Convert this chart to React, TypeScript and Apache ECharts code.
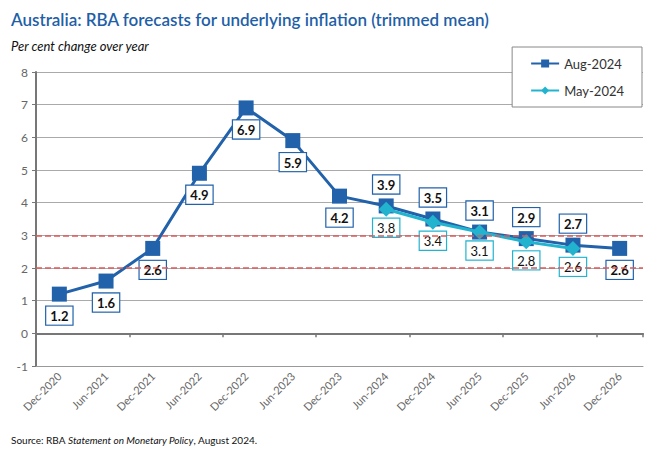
import React, { useEffect, useRef } from "react";
import * as echarts from "echarts";

const categories = ["Dec-2020","Jun-2021","Dec-2021","Jun-2022","Dec-2022","Jun-2023","Dec-2023","Jun-2024","Dec-2024","Jun-2025","Dec-2025","Jun-2026","Dec-2026"];
const aug2024 = [1.2, 1.6, 2.6, 4.9, 6.9, 5.9, 4.2, 3.9, 3.5, 3.1, 2.9, 2.7, 2.6];
const augLabelPos = ["bottom","bottom","bottom","bottom","bottom","bottom","bottom","top","top","top","top","top","bottom"];
const may2024 = [null, null, null, null, null, null, null, 3.8, 3.4, 3.1, 2.8, 2.6, null];
const targetBand = [2, 3];

const AUG = "#2162aa";
const MAY = "#22b4cf";
const FONT = "Lato, 'Noto Sans', sans-serif";

export default function App() {
  const ref = useRef<HTMLDivElement>(null);
  useEffect(() => {
    const chart = echarts.init(ref.current!, null, { renderer: "svg" });
    const boxLabel = (color: string, bold: boolean) => ({
      show: true,
      formatter: (p: any) => Number(p.value).toFixed(1),
      color: "#111",
      fontFamily: FONT,
      fontSize: 13,
      fontWeight: bold ? "bold" : "normal",
      backgroundColor: "#fff",
      borderColor: color,
      borderWidth: 1.2,
      padding: [3, 4, 2, 4],
      distance: 5,
    });
    chart.setOption({
      animation: false,
      backgroundColor: "#fff",
      title: [
        {
          text: "Australia: RBA forecasts for underlying inflation (trimmed mean)",
          left: 6, top: 6,
          textStyle: { color: "#1f5fa8", fontSize: 17, fontWeight: 600, fontFamily: FONT },
        },
        {
          text: "Per cent change over year",
          left: 6, top: 34,
          textStyle: { color: "#111", fontSize: 13, fontStyle: "italic", fontWeight: "normal", fontFamily: FONT },
        },
        {
          text: "Source: RBA {i|Statement on Monetary Policy}, August 2024.",
          left: 6, top: 430,
          textStyle: {
            color: "#111", fontSize: 10, fontWeight: "normal", fontFamily: FONT,
            rich: { i: { fontStyle: "italic", fontSize: 10, color: "#111", fontFamily: FONT } },
          },
        },
      ],
      legend: {
        orient: "vertical",
        right: 8, top: 47,
        width: 129,
        backgroundColor: "#fff",
        borderColor: "#888",
        borderWidth: 1,
        padding: [10, 18, 10, 18],
        itemGap: 14,
        itemWidth: 28,
        itemHeight: 10,
        textStyle: { fontFamily: FONT, fontSize: 13, color: "#333" },
        data: ["Aug-2024", "May-2024"],
      },
      grid: { left: 36, right: 7, top: 72, bottom: 89, containLabel: false },
      xAxis: [
        {
          type: "category",
          data: categories,
          position: "bottom",
          axisLine: { onZero: false, lineStyle: { color: "#999", width: 1 } },
          axisTick: { show: false },
          axisLabel: { rotate: 45, color: "#666", fontSize: 11, fontFamily: FONT, margin: 8, interval: 0 },
        },
        {
          type: "category",
          data: categories,
          position: "top",
          axisLine: { onZero: true, lineStyle: { color: "#777", width: 2 } },
          axisTick: { show: true, inside: true, length: 4, lineStyle: { color: "#777", width: 1.5 } },
          axisLabel: { show: false },
        },
      ],
      yAxis: {
        type: "value",
        min: -1, max: 8, interval: 1,
        axisLine: { show: true, lineStyle: { color: "#777", width: 2 } },
        axisTick: { show: true, length: 4, lineStyle: { color: "#777" } },
        axisLabel: { color: "#666", fontSize: 12, fontFamily: FONT, margin: 8 },
        splitLine: { show: true, lineStyle: { color: "#aaa", width: 1 } },
      },
      series: [
        {
          name: "Aug-2024",
          type: "line",
          data: aug2024.map((v, i) => ({ value: v, label: { position: augLabelPos[i] } })),
          symbol: "rect",
          symbolSize: 15,
          lineStyle: { color: AUG, width: 3 },
          itemStyle: { color: AUG },
          label: boxLabel(AUG, true),
          z: 3,
          markLine: {
            silent: true,
            symbol: "none",
            label: { show: false },
            lineStyle: { color: "#e05a5a", type: "dashed", width: 1.5 },
            data: targetBand.map((y) => ({ yAxis: y })),
          },
        },
        {
          name: "May-2024",
          type: "line",
          data: may2024,
          symbol: "diamond",
          symbolSize: 15,
          lineStyle: { color: MAY, width: 3 },
          itemStyle: { color: MAY },
          label: { ...boxLabel(MAY, false), position: "bottom", distance: 2 },
          z: 4,
        },
      ],
    });
    return () => chart.dispose();
  }, []);
  return <div ref={ref} style={{ width: 650, height: 455, position: "absolute", left: 0, top: 0 }} />;
}
